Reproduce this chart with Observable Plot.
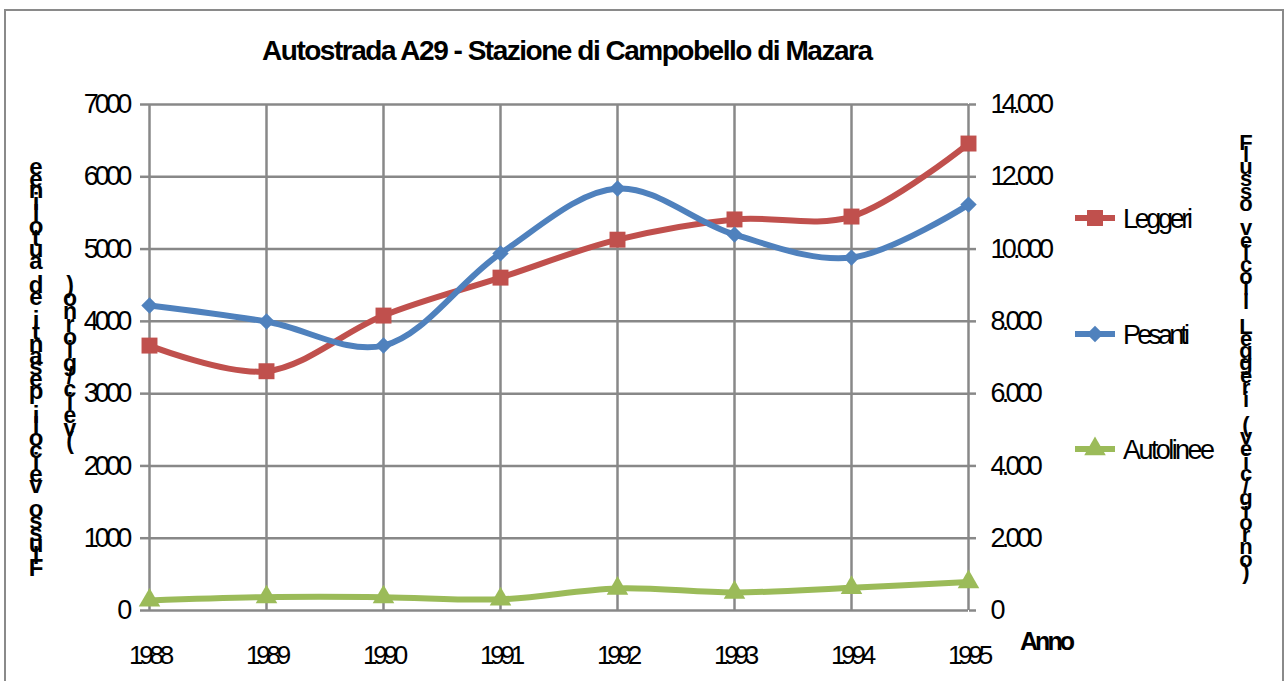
<!DOCTYPE html>
<html><head><meta charset="utf-8">
<script src="https://cdn.jsdelivr.net/npm/d3@7"></script>
<script src="https://cdn.jsdelivr.net/npm/@observablehq/plot@0.6"></script>
<style>
body{margin:0;background:#fff;}
#wrap{position:relative;width:1288px;height:681px;overflow:hidden;font-family:"Liberation Sans",Arial,sans-serif;background:#fff;}
#frame{position:absolute;left:4px;top:9px;width:1280px;height:720px;border:2px solid #8a8a8a;box-sizing:border-box;}
#chart{position:absolute;left:0;top:0;}
#over{position:absolute;left:0;top:0;}
</style></head><body>
<div id="wrap"><div id="frame"></div><div id="chart"></div><svg id="over" width="1288" height="681"></svg></div>
<script>
// ---- data ----
const title = "Autostrada A29 - Stazione di Campobello di Mazara";
const xTitle = "Anno";
const leftTitleLines = ["Flusso veicoli pesanti ed autolinee", "(veic/giorno)"];
const rightTitle = "Flusso veicoli Leggeri (veic/giorno)";
const years = [1988, 1989, 1990, 1991, 1992, 1993, 1994, 1995];
const seriesNames = ["Leggeri", "Pesanti", "Autolinee"];
const leggeri = [7330, 6620, 8160, 9210, 10260, 10820, 10900, 12920];   // right axis
const pesanti = [4220, 3997, 3665, 4940, 5837, 5200, 4882, 5615];       // left axis
const autolinee = [140, 185, 185, 155, 305, 250, 315, 395];             // left axis
const leftTicks = [0, 1000, 2000, 3000, 4000, 5000, 6000, 7000];
const rightTicks = [0, 2000, 4000, 6000, 8000, 10000, 12000, 14000];

// ---- styling ----
const colors = ["#C0504D", "#4F81BD", "#9BBB59"];
const symbols = ["square", "diamond2", "triangle"];
const radii = [9, 7.4, 8];
const grid = "#888888";
const ratio = 14000 / 7000; // right axis / left axis

const itFmt = d3.formatLocale({decimal: ",", thousands: ".", grouping: [3], currency: ["€", ""]}).format(",d");

const seriesValues = [leggeri, pesanti, autolinee];
const seriesScale = [1 / ratio, 1, 1];
const data = seriesValues.map((vals, s) => years.map((yr, i) => ({year: yr, y: vals[i] * seriesScale[s], series: seriesNames[s]})));

const marks = [
  Plot.ruleY(leftTicks, {stroke: grid, strokeWidth: 2.5}),
  Plot.ruleX(years, {stroke: grid, strokeWidth: 2.5}),
  Plot.axisY({anchor: "left", ticks: leftTicks, tickFormat: d => String(d), tickSize: 9, tickPadding: 12, stroke: grid, strokeWidth: 2.5, fontSize: 27, label: null}),
  Plot.axisY({anchor: "right", ticks: rightTicks.map(v => v / ratio), tickFormat: d => itFmt(Math.round(d * ratio)), tickSize: 7, tickPadding: 15, stroke: grid, strokeWidth: 2.5, fontSize: 27, label: null}),
  Plot.axisX({anchor: "bottom", ticks: years, tickFormat: d => String(d), tickSize: 0, tickPadding: 35, fontSize: 26, label: null})
];
data.forEach((d, s) => {
  marks.push(Plot.line(d, {x: "year", y: "y", stroke: colors[s], strokeWidth: 6, curve: "catmull-rom"}));
  marks.push(Plot.dot(d, {x: "year", y: "y", symbol: symbols[s], r: radii[s], fill: colors[s], stroke: "none"}));
});

const plot = Plot.plot({
  width: 1288, height: 681,
  marginLeft: 149, marginRight: 320, marginTop: 104, marginBottom: 71,
  x: {domain: [1988, 1995]},
  y: {domain: [0, 7000]},
  style: {fontFamily: "'Liberation Sans', Arial, sans-serif", background: "transparent", color: "#000"},
  marks
});
document.getElementById("chart").appendChild(plot);
d3.select(plot).selectAll('g[aria-label="y-axis tick label"] text').style("letter-spacing", "-3.8px").attr("fill", "#000");
d3.select(plot).selectAll('g[aria-label="x-axis tick label"] text').style("letter-spacing", "-4.2px").attr("fill", "#000");

// ---- overlay: title, axis titles, legend ----
const over = d3.select("#over");
const ff = "'Liberation Sans', Arial, sans-serif";
over.append("text").attr("x", 567.5).attr("y", 60).attr("text-anchor", "middle")
  .attr("font-family", ff).attr("font-weight", "bold").attr("font-size", 28)
  .attr("textLength", 611).attr("lengthAdjust", "spacing").text(title);
over.append("text").attr("x", 1020).attr("y", 650)
  .attr("font-family", ff).attr("font-weight", "bold").attr("font-size", 25)
  .attr("textLength", 55).attr("lengthAdjust", "spacing").text(xTitle);

// one text element per column, each glyph placed on its own row (stacked letters)
function stack(str, cx, firstBaseline, step, size, reverse) {
  const chars = Array.from(str);
  const xs = chars.map(() => cx).join(" ");
  const ys = chars.map((c, i) => (reverse ? firstBaseline - i * step : firstBaseline + i * step).toFixed(2)).join(" ");
  over.append("text").attr("x", xs).attr("y", ys).attr("text-anchor", "middle")
    .attr("font-family", ff).attr("font-weight", "bold").attr("font-size", size).text(str);
}
stack(leftTitleLines[0], 36, 576, 11.8, 24, true);
stack(leftTitleLines[1], 70, 449, 13, 23, true);
stack(rightTitle, 1246, 149.5, 12.27, 22, false);

const legendY = [218, 334, 449];
const legendW = [70, 67, 92];
seriesNames.forEach((name, s) => {
  const y = legendY[s];
  over.append("line").attr("x1", 1075).attr("x2", 1115).attr("y1", y).attr("y2", y)
    .attr("stroke", colors[s]).attr("stroke-width", 6);
  const sym = {square: d3.symbolSquare, diamond2: d3.symbolDiamond2, triangle: d3.symbolTriangle}[symbols[s]];
  over.append("path").attr("d", d3.symbol(sym, Math.PI * radii[s] * radii[s])())
    .attr("transform", `translate(1095,${y})`).attr("fill", colors[s]);
  over.append("text").attr("x", 1123).attr("y", y + 10)
    .attr("font-family", ff).attr("font-size", 27)
    .attr("textLength", legendW[s]).attr("lengthAdjust", "spacing").text(name);
});
</script>
</body></html>
